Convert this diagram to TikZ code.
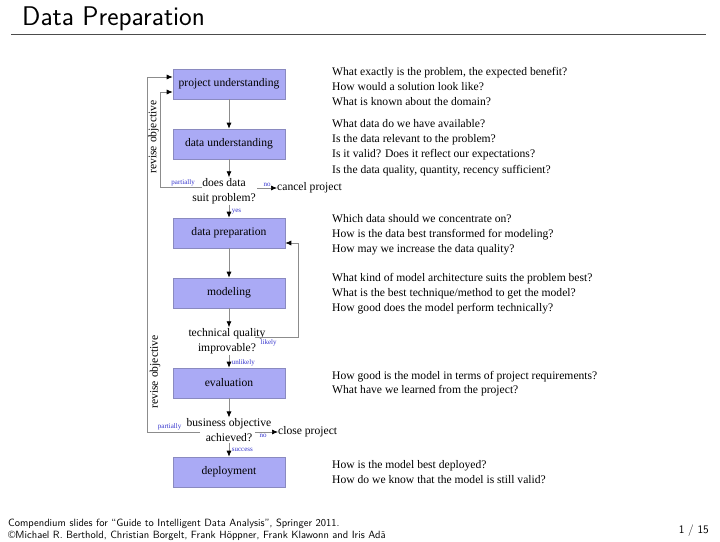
\documentclass[tikz,border=0pt]{standalone}
\usepackage{fontspec}
\setmainfont{Liberation Serif}
\usetikzlibrary{arrows.meta}
\definecolor{boxfill}{HTML}{AAAAF5}
\definecolor{boxline}{HTML}{8A8AC0}
\definecolor{lbl}{HTML}{3333CC}
\definecolor{conn}{HTML}{8C8C8C}
\tikzset{
  stepbox/.style={draw=boxline, fill=boxfill, line width=0.6pt, minimum width=112pt, minimum height=30pt, inner sep=0pt, font=\fontsize{11.6}{13}\selectfont},
  dtext/.style={align=center, inner sep=1pt, font=\fontsize{11.6}{14.5}\selectfont},
  qtext/.style={anchor=base west, inner sep=0pt, font=\fontsize{11.6}{14}\selectfont},
  lab/.style={text=lbl, inner sep=0.5pt, font=\fontsize{7}{8}\selectfont},
  flow/.style={draw=conn, line width=0.7pt, -{Latex[length=6pt,width=5pt,color=black]}},
}
\begin{document}
\begin{tikzpicture}[x=1pt,y=-1pt]
\useasboundingbox (0,0) rectangle (720,541);
% title
\node[anchor=base west, inner sep=0pt, font=\sffamily\fontsize{27}{30}\selectfont] (title) at (22,25.3) {Data Preparation};
\draw[draw=black!70, line width=1pt] (11,34) coordinate (r1) -- (706,34) coordinate (r2);

% steps
\node[stepbox] (pu) at (229,84) {project understanding};
\node[stepbox] (du) at (229,144) {data understanding};
\node[stepbox] (dp) at (229,233) {data preparation};
\node[stepbox] (mo) at (229,293) {modeling};
\node[stepbox] (ev) at (229,383) {evaluation};
\node[stepbox] (de) at (229,472) {deployment};

% decisions
\node[dtext] (d1) at (224,191) {does data\\suit problem?};
\node[dtext] (d2) at (227,341) {technical quality\\improvable?};
\node[dtext] (d3) at (229,430) {business objective\\achieved?};

\node[anchor=west, inner sep=0pt, font=\fontsize{11.6}{14}\selectfont] (cancel) at (277,188) {cancel project};
\node[anchor=west, inner sep=0pt, font=\fontsize{11.6}{14}\selectfont] (close) at (278,432) {close project};

% main flow
\draw[flow] (pu) -- (du);
\draw[flow] (du) -- (du |- d1.north);
\draw[flow] (dp |- d1.south) -- node[lab, anchor=west, pos=0.55, xshift=2pt] (lyes) {yes} (dp);
\draw[flow] (dp) -- (mo);
\draw[flow] (mo) -- (mo |- d2.north);
\draw[flow] (ev |- d2.south) -- node[lab, anchor=west, pos=0.6, xshift=2pt] (lunl) {unlikely} (ev);
\draw[flow] (ev) -- (ev |- d3.north);
\draw[flow] (d3) -- node[lab, anchor=west, pos=0.55, xshift=2pt] (lsuc) {success} (de);

% exits
\coordinate (c1) at (257,188);
\draw[flow] (c1) -- node[lab, above, yshift=0.5pt] (lno1) {no} (cancel);
\coordinate (c3) at (255,432);
\draw[flow] (c3) -- (close);
\node[lab, anchor=north] (lno3) at (263,433.5) {no};

% feedback loops
\coordinate (p1) at (202,187);
\draw[flow] (p1) -- node[lab, above, pos=0.45] (lpar1) {partially} (160,187) -- (160,92) -- (pu.west |- 0,92);
\coordinate (p3) at (200,432);
\draw[flow] (p3) -- (147,432) -- (147,77) -- (pu.west |- 0,77);
\node[lab, anchor=south east] (lpar3) at (182,431) {partially};
\coordinate (t1) at (255,337);
\draw[flow] (t1) -- (298,337) -- (298,243) -- (dp.east |- 0,243);
\node[lab, anchor=north west] (llik) at (260,338.5) {likely};

\node[rotate=90, inner sep=0pt, font=\fontsize{11.6}{14}\selectfont] (rev1) at (153.5,137) {revise objective};
\node[rotate=90, inner sep=0pt, font=\fontsize{11.6}{14}\selectfont] (rev2) at (155,372) {revise objective};

% questions
\node[qtext] (q1) at (332,75) {What exactly is the problem, the expected benefit?};
\node[qtext] (q2) at (332,90) {How would a solution look like?};
\node[qtext] (q3) at (332,105) {What is known about the domain?};
\node[qtext] (q4) at (332,127) {What data do we have available?};
\node[qtext] (q5) at (332,142.5) {Is the data relevant to the problem?};
\node[qtext] (q6) at (332,157.5) {Is it valid? Does it reflect our expectations?};
\node[qtext] (q7) at (332,173) {Is the data quality, quantity, recency sufficient?};
\node[qtext] (q8) at (332,222) {Which data should we concentrate on?};
\node[qtext] (q9) at (332,237) {How is the data best transformed for modeling?};
\node[qtext] (q10) at (332,252) {How may we increase the data quality?};
\node[qtext] (q11) at (332,281) {What kind of model architecture suits the problem best?};
\node[qtext] (q12) at (332,296) {What is the best technique/method to get the model?};
\node[qtext] (q13) at (332,311) {How good does the model perform technically?};
\node[qtext] (q14) at (332,379) {How good is the model in terms of project requirements?};
\node[qtext] (q15) at (332,393) {What have we learned from the project?};
\node[qtext] (q16) at (332,468) {How is the model best deployed?};
\node[qtext] (q17) at (332,483) {How do we know that the model is still valid?};

% footer
\node[anchor=base west, inner sep=0pt, font=\sffamily\fontsize{10.5}{12}\selectfont] (f1) at (8,526.3) {Compendium slides for ``Guide to Intelligent Data Analysis'', Springer 2011.};
\node[anchor=base west, inner sep=0pt, font=\sffamily\fontsize{10.5}{12}\selectfont] (f2) at (8,538.5) {\textcopyright Michael R. Berthold, Christian Borgelt, Frank Höppner, Frank Klawonn and Iris Adä};
\node[anchor=base east, inner sep=0pt, font=\sffamily\fontsize{11.5}{13}\selectfont] (pg) at (709,533) {1 / 15};
\end{tikzpicture}
\end{document}
